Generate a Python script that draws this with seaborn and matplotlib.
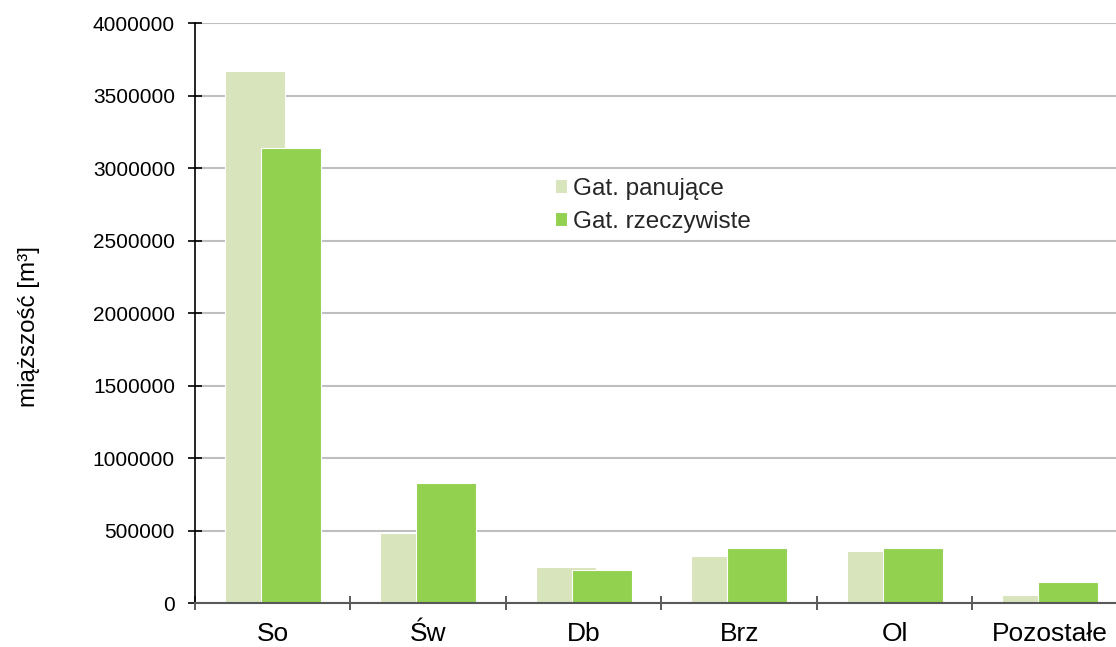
import numpy as np
import pandas as pd
import matplotlib
matplotlib.use("Agg")
import matplotlib.pyplot as plt
import seaborn as sns

# ---- data ----
categories = ["So", "Św", "Db", "Brz", "Ol", "Pozostałe"]
gat_panujace = [3670000, 480000, 250000, 323000, 357000, 52000]
gat_rzeczywiste = [3140000, 830000, 226000, 381000, 378000, 148000]
series_names = ["Gat. panujące", "Gat. rzeczywiste"]
y_ticks = [0, 500000, 1000000, 1500000, 2000000, 2500000, 3000000, 3500000, 4000000]

df = pd.DataFrame({
    "gatunek": categories * 2,
    "miazszosc": gat_panujace + gat_rzeczywiste,
    "typ": [series_names[0]] * len(categories) + [series_names[1]] * len(categories),
})

sns.set_theme(style="white")
plt.rcParams["font.family"] = ["Liberation Sans", "DejaVu Sans"]

fig = plt.figure(figsize=(11.16, 6.47), dpi=100)
# the plot area runs a little past the right edge of the picture (as in the reference)
ax = fig.add_axes([0.1747, 0.068, 0.836, 0.8964])

colors = ["#d8e4bc", "#92d050"]
sns.barplot(data=df, x="gatunek", y="miazszosc", hue="typ", order=categories,
            hue_order=series_names, palette=colors, width=0.772, dodge=True,
            errorbar=None, ax=ax, linewidth=0.8, edgecolor="white", saturation=1)

# Excel-like overlap of the two series within a group
shift = 0.078
for i, cont in enumerate(ax.containers):
    for p in cont.patches:
        p.set_x(p.get_x() + (shift if i == 0 else -shift))

ax.set_xlim(-0.5, len(categories) - 0.5)
ax.set_ylim(0, 4000000)
ax.set_yticks(y_ticks)
ax.set_yticklabels([str(v) for v in y_ticks])
ax.set_xticks(np.arange(len(categories)))
ax.set_xticklabels(categories)
ax.set_xticks(np.arange(-0.5, len(categories), 1), minor=True)

ax.yaxis.grid(True, color="#bfbfbf", linewidth=1.5)
ax.xaxis.grid(False)
ax.set_axisbelow(True)

for s in ["top", "right"]:
    ax.spines[s].set_visible(False)
ax.spines["left"].set_color("#000000")
ax.spines["left"].set_linewidth(1.2)
ax.spines["bottom"].set_color("#595959")
ax.spines["bottom"].set_linewidth(1.5)

ax.tick_params(axis="y", which="major", direction="inout", length=10, width=1.2,
               color="#000000", labelsize=15, labelcolor="#000000", pad=9.4, left=True)
ax.tick_params(axis="x", which="major", length=0, labelsize=19, labelcolor="#000000", pad=14)
ax.tick_params(axis="x", which="minor", direction="inout", length=10.5, width=1.2,
               color="#404040", bottom=True)

ax.set_xlabel("")
ax.set_ylabel("")
fig.text(0.026, 0.496, "miąższość [m³]", rotation=90, ha="center", va="center",
         fontsize=17.4, color="#000000")

leg = ax.legend(loc="upper left", bbox_to_anchor=(0.386, 0.733), frameon=False,
                fontsize=17.5, handlelength=0.5, handleheight=0.5, handletextpad=0.25,
                labelspacing=0.45, borderaxespad=0, borderpad=0)

fig.savefig("out.png", dpi=100)
